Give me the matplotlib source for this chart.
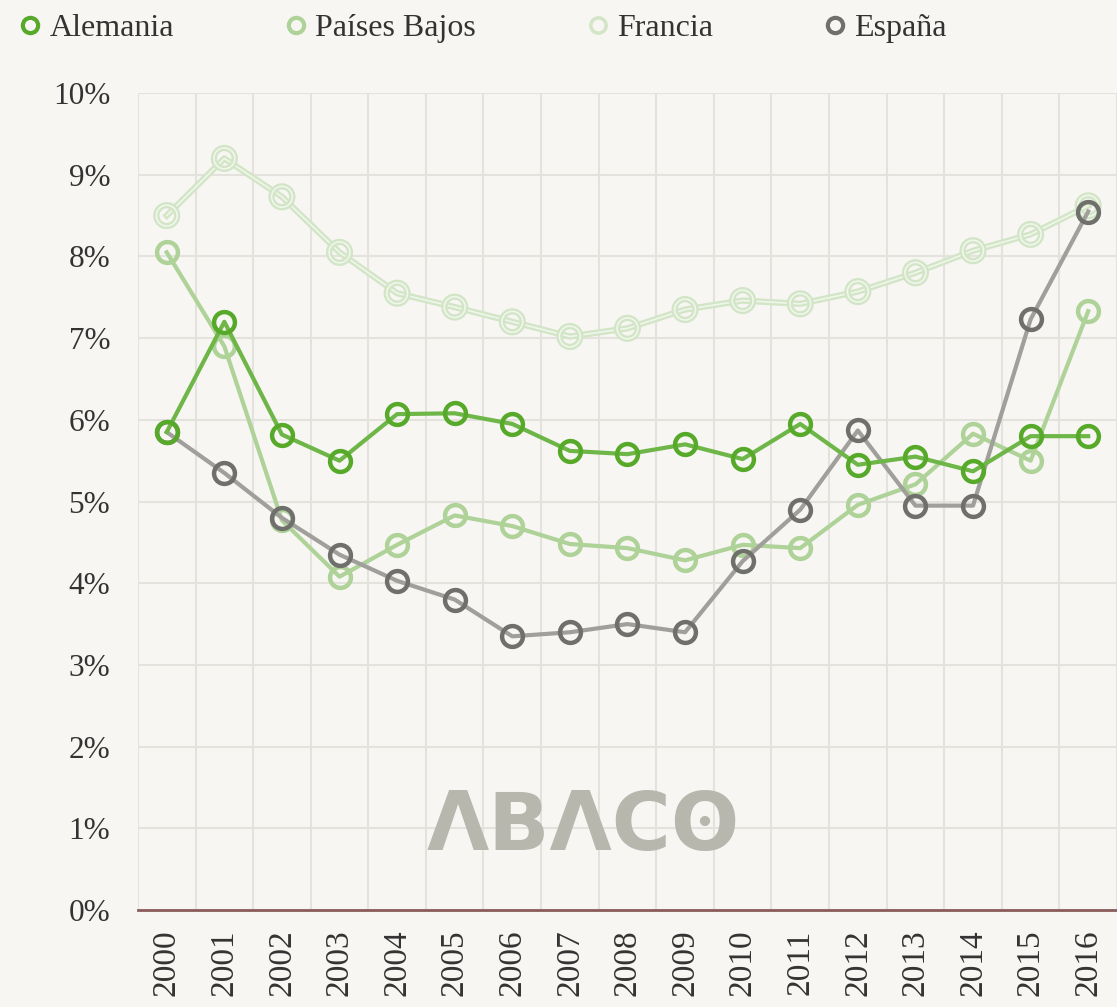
import numpy as np
import matplotlib
matplotlib.use("Agg")
import matplotlib.pyplot as plt
import matplotlib.patheffects as pe
from matplotlib.lines import Line2D

years = [str(y) for y in range(2000, 2017)]
alemania = [5.85, 7.2, 5.82, 5.5, 6.07, 6.08, 5.95, 5.62, 5.58, 5.7, 5.52, 5.95, 5.45, 5.55, 5.37, 5.8, 5.8]
paises_bajos = [8.05, 6.9, 4.77, 4.08, 4.47, 4.83, 4.7, 4.48, 4.43, 4.28, 4.47, 4.43, 4.96, 5.21, 5.83, 5.5, 7.33]
francia = [8.5, 9.2, 8.73, 8.05, 7.55, 7.38, 7.2, 7.02, 7.12, 7.35, 7.46, 7.42, 7.57, 7.8, 8.07, 8.27, 8.62]
espana = [5.85, 5.35, 4.8, 4.35, 4.03, 3.8, 3.35, 3.4, 3.5, 3.4, 4.27, 4.9, 5.87, 4.95, 4.95, 7.23, 8.55]
labels = ["Alemania", "Países Bajos", "Francia", "España"]

bg = "#f7f6f3"
plt.rcParams["font.family"] = ["Liberation Serif", "DejaVu Serif"]

fig = plt.figure(figsize=(11.17, 10.07), dpi=100, facecolor=bg)
ax = fig.add_axes([0.1235, 0.0963, 0.8765, 0.8113], facecolor=bg)

x = np.arange(len(years))
ms, mew = 15, 3.2

# Francia: light double line
ax.plot(x, francia, color="#f1f6ec", lw=1.2, marker="o", ms=ms, mew=1.2,
        mfc="none", mec="#f1f6ec", zorder=3,
        path_effects=[pe.Stroke(linewidth=4.5, foreground="#d2e5c6"), pe.Normal()])
ax.plot(x, paises_bajos, color="#aed298", lw=3, marker="o", ms=ms, mew=mew,
        mfc="none", mec="#aed298", zorder=4)
ax.plot(x, espana, color="#a09f9b", lw=3, marker="o", ms=ms, mew=mew,
        mfc="none", mec="#6f706b", zorder=4)
ax.plot(x, alemania, color="#6db647", lw=3, marker="o", ms=ms, mew=mew,
        mfc="none", mec="#57a92a", zorder=5)

ax.set_xlim(-0.5, len(years) - 0.5)
ax.set_ylim(0, 10)
ax.set_xticks(x)
ax.set_xticklabels(years, rotation=90, fontsize=24, color="#333333")
ax.set_xticks(np.arange(-0.5, len(years), 1), minor=True)
ax.set_yticks(np.arange(0, 11))
ax.set_yticklabels([f"{v}%" for v in range(11)], fontsize=22.5, color="#333333")
ax.tick_params(axis="both", which="both", length=0)
ax.tick_params(axis="y", pad=20)
ax.tick_params(axis="x", pad=14)
ax.grid(True, axis="y", color="#e4e2dd", lw=1.5)
ax.grid(True, axis="x", which="minor", color="#e4e2dd", lw=1.5)
ax.set_axisbelow(True)
for s in ["top", "right", "left"]:
    ax.spines[s].set_visible(False)
ax.spines["bottom"].set_color("#8a5c5c")
ax.spines["bottom"].set_linewidth(2)

# logo
ax.text(0.455, 0.10, "ΛBΛCʘ", transform=ax.transAxes, ha="center", va="center",
        fontsize=58, fontweight="bold", color="#b7b7ad", family="DejaVu Sans", zorder=2)

handles = [
    Line2D([], [], ls="none", marker="o", ms=11, mew=3, mfc="none", mec="#57a92a"),
    Line2D([], [], ls="none", marker="o", ms=11, mew=3, mfc="none", mec="#aed298"),
    Line2D([], [], ls="none", marker="o", ms=11, mew=2.5, mfc="none", mec="#d2e5c6"),
    Line2D([], [], ls="none", marker="o", ms=11, mew=3, mfc="none", mec="#6f706b"),
]
fig.legend(handles, labels, loc="upper left", bbox_to_anchor=(0.001, 1.005), ncol=4,
           frameon=False, fontsize=23, handlelength=0.6, handletextpad=0.32,
           columnspacing=3.5, labelcolor="#333333", borderaxespad=0.2)

fig.savefig("out.png", dpi=100, facecolor=bg)
